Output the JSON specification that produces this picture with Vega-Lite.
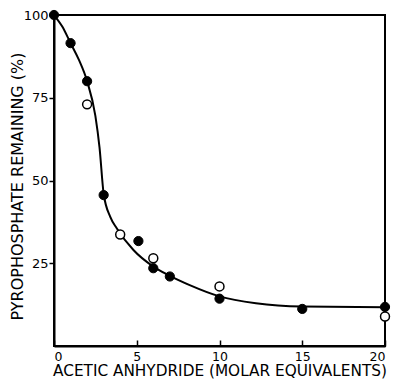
{
  "$schema": "https://vega.github.io/schema/vega-lite/v6.json",
  "width": 331,
  "height": 331,
  "autosize": {"type": "none"},
  "padding": {"left": 54, "top": 15, "right": 8, "bottom": 33},
  "background": "white",
  "config": {
    "view": {"stroke": "black", "strokeWidth": 2},
    "font": "DejaVu Sans",
    "axis": {
      "domainColor": "black", "domainWidth": 2, "tickColor": "black", "tickWidth": 1.5,
      "labelColor": "black", "titleColor": "black", "grid": false,
      "labelFont": "DejaVu Sans", "titleFont": "DejaVu Sans",
      "labelFontSize": 13, "titleFontSize": 13, "titleFontWeight": "normal"
    }
  },
  "datasets": {
    "curve": [
      {"x": 0, "y": 100}, {"x": 0.5, "y": 96.5}, {"x": 1, "y": 91.5}, {"x": 1.5, "y": 86.5},
      {"x": 2, "y": 80}, {"x": 2.5, "y": 69.5}, {"x": 2.75, "y": 60}, {"x": 3, "y": 46},
      {"x": 3.4, "y": 39}, {"x": 3.8, "y": 35.5}, {"x": 4.8, "y": 29}, {"x": 6, "y": 24},
      {"x": 7, "y": 21.2}, {"x": 8.2, "y": 18.4}, {"x": 10, "y": 15}, {"x": 12.2, "y": 12.9},
      {"x": 15, "y": 11.9}, {"x": 20, "y": 11.7}
    ],
    "points": [
      {"x": 0, "y": 100, "series": "filled"},
      {"x": 1, "y": 91.5, "series": "filled"},
      {"x": 2, "y": 80, "series": "filled"},
      {"x": 3, "y": 45.6, "series": "filled"},
      {"x": 5.1, "y": 31.7, "series": "filled"},
      {"x": 6, "y": 23.5, "series": "filled"},
      {"x": 7, "y": 21, "series": "filled"},
      {"x": 10, "y": 14.3, "series": "filled"},
      {"x": 15, "y": 11.2, "series": "filled"},
      {"x": 20, "y": 11.8, "series": "filled"},
      {"x": 2, "y": 73, "series": "open"},
      {"x": 4, "y": 33.7, "series": "open"},
      {"x": 6, "y": 26.5, "series": "open"},
      {"x": 10, "y": 18, "series": "open"},
      {"x": 20, "y": 8.9, "series": "open"}
    ]
  },
  "layer": [
    {
      "data": {"name": "curve"},
      "mark": {"type": "line", "interpolate": "monotone", "color": "black", "strokeWidth": 2},
      "encoding": {
        "x": {"field": "x", "type": "quantitative", "scale": {"domain": [0, 20], "nice": false},
          "axis": {"values": [0, 5, 10, 15, 20], "title": "ACETIC ANHYDRIDE (MOLAR EQUIVALENTS)", "tickSize": -6, "labelPadding": 10, "labelFontSize": 12.5, "titlePadding": 1, "titleFontSize": 15.3}},
        "y": {"field": "y", "type": "quantitative", "scale": {"domain": [0, 100], "nice": false},
          "axis": {"values": [25, 50, 75, 100], "title": "PYROPHOSPHATE REMAINING (%)", "tickSize": 5, "labelPadding": 1, "titlePadding": -2, "titleFontSize": 16, "titleY": 171}}
      }
    },
    {
      "data": {"name": "points"},
      "transform": [{"filter": "datum.series === 'open'"}],
      "mark": {"type": "point", "shape": "circle", "filled": true, "fill": "white", "stroke": "black", "strokeWidth": 1.5, "size": 80, "opacity": 1},
      "encoding": {
        "x": {"field": "x", "type": "quantitative"},
        "y": {"field": "y", "type": "quantitative"}
      }
    },
    {
      "data": {"name": "points"},
      "transform": [{"filter": "datum.series === 'filled'"}],
      "mark": {"type": "point", "shape": "circle", "filled": true, "fill": "black", "stroke": "black", "strokeWidth": 1, "size": 85, "opacity": 1},
      "encoding": {
        "x": {"field": "x", "type": "quantitative"},
        "y": {"field": "y", "type": "quantitative"}
      }
    }
  ]
}
